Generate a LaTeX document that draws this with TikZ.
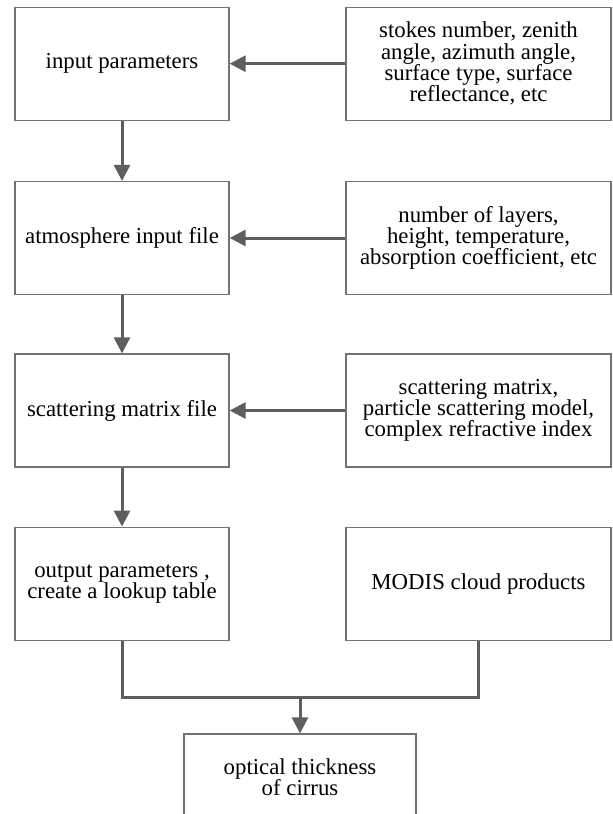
\documentclass[tikz,border=0pt]{standalone}
\usepackage{fontspec}
\setmainfont{Liberation Serif}
\usetikzlibrary{arrows.meta}
\definecolor{linegray}{HTML}{5E5E5E}
\definecolor{boxgray}{HTML}{737373}
\begin{document}
\begin{tikzpicture}[x=1pt,y=-1pt,
  box/.style={draw=boxgray,line width=1.3pt,minimum height=113pt,align=center,
    inner sep=0pt,text=black,font=\fontsize{22.8}{21.3}\selectfont},
  lbox/.style={box,minimum width=214pt},
  rbox/.style={box,minimum width=265pt},
  conn/.style={draw=linegray,line width=3pt},
  arr/.style={conn,-{Triangle[length=16pt,width=16pt]}}]
\useasboundingbox (0,0) rectangle (613,814);
\clip (0,0) rectangle (613,814);
\node[lbox] (L1) at (122,63.7) {input parameters};
\node[rbox] (R1) at (478.5,63.7) {stokes number, zenith\\angle, azimuth angle,\\surface type, surface\\reflectance, etc};
\node[lbox] (L2) at (122,238) {atmosphere input file};
\node[rbox] (R2) at (478.5,238) {number of layers,\\height, temperature,\\absorption coefficient, etc};
\node[lbox] (L3) at (122,410.5) {scattering matrix file};
\node[rbox] (R3) at (478.5,410.5) {scattering matrix,\\particle scattering model,\\complex refractive index};
\node[lbox] (L4) at (122,583.7) {output parameters ,\\create a lookup table};
\node[rbox] (R4) at (478.5,583.7) {MODIS cloud products};
\node[box,minimum width=232pt,minimum height=86pt] (B) at (300,777) {optical thickness\\of cirrus};
\draw[arr] (R1.west) -- (L1.east);
\draw[arr] (R2.west) -- (L2.east);
\draw[arr] (R3.west) -- (L3.east);
\draw[arr] (L1.south) -- (L2.north);
\draw[arr] (L2.south) -- (L3.north);
\draw[arr] (L3.south) -- (L4.north);
\coordinate (M) at (300,697);
\draw[conn] (L4.south) |- (M) -| (R4.south);
\draw[arr] (M) -- (B.north);
\end{tikzpicture}
\end{document}
